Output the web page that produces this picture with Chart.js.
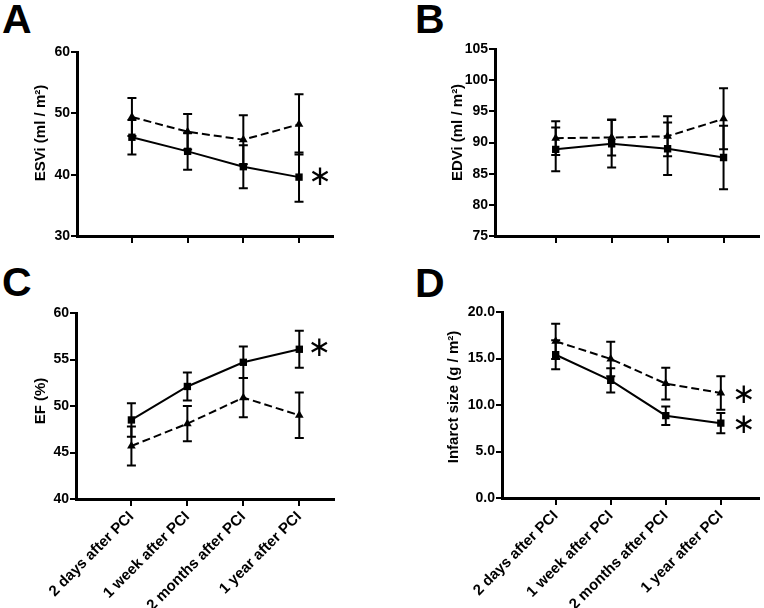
<!DOCTYPE html>
<html><head><meta charset="utf-8">
<script src="https://cdn.jsdelivr.net/npm/chart.js@4"></script>
<style>
html,body{margin:0;padding:0;background:#fff}
body{width:764px;height:608px;position:relative;overflow:hidden;font-family:"Liberation Sans",Arial,sans-serif}
canvas{position:absolute}
.lbl{position:absolute;font-weight:bold;font-size:41px;line-height:1;color:#000;font-family:"Liberation Sans",Arial,sans-serif}
</style></head><body>
<div class="lbl" style="left:2px;top:-1px">A</div>
<div class="lbl" style="left:415px;top:-1px">B</div>
<div class="lbl" style="left:2px;top:262px">C</div>
<div class="lbl" style="left:415px;top:263px">D</div>
<canvas id="cA" width="382" height="290" style="left:0;top:0"></canvas>
<canvas id="cB" width="382" height="290" style="left:382px;top:0"></canvas>
<canvas id="cC" width="382" height="353" style="left:0;top:255px"></canvas>
<canvas id="cD" width="382" height="353" style="left:382px;top:255px"></canvas>
<script>
// ---- data ----
const categories = ['2 days after PCI','1 week after PCI','2 months after PCI','1 year after PCI'];

const esviSolid = [46.1, 43.8, 41.3, 39.6];
const esviSolidErr = [2.8, 3.0, 3.5, 4.0];
const esviDashed = [49.4, 47.0, 45.7, 48.2];
const esviDashedErr = [3.1, 2.9, 4.0, 4.9];
const esviTicks = [30, 40, 50, 60];

const edviSolid = [88.9, 89.8, 89.0, 87.6];
const edviSolidErr = [3.5, 3.8, 4.2, 5.1];
const edviDashed = [90.7, 90.8, 91.0, 93.8];
const edviDashedErr = [2.7, 2.9, 3.2, 4.9];
const edviTicks = [75, 80, 85, 90, 95, 100, 105];

const efSolid = [48.5, 52.1, 54.7, 56.1];
const efSolidErr = [1.8, 1.5, 1.7, 2.0];
const efDashed = [45.7, 48.1, 50.9, 49.0];
const efDashedErr = [2.1, 1.9, 2.1, 2.45];
const efTicks = [40, 45, 50, 55, 60];

const infSolid = [15.4, 12.65, 8.85, 8.05];
const infSolidErr = [1.55, 1.3, 1.0, 1.1];
const infDashed = [16.85, 14.95, 12.3, 11.3];
const infDashedErr = [1.9, 1.85, 1.7, 1.8];
const infTicks = [0, 5, 10, 15, 20];

// ---- plugins ----
const errorBars = {
  id: 'errorBars',
  afterDatasetsDraw(chart) {
    const ctx = chart.ctx, ys = chart.scales.y, xs = chart.scales.x;
    ctx.save();
    ctx.strokeStyle = '#000';
    ctx.lineWidth = 2;
    chart.data.datasets.forEach(ds => {
      ds.data.forEach((p, i) => {
        const e = ds.errors[i];
        const x = xs.getPixelForValue(p.x);
        const y1 = ys.getPixelForValue(p.y + e);
        const y2 = ys.getPixelForValue(p.y - e);
        ctx.beginPath();
        ctx.moveTo(x, y1); ctx.lineTo(x, y2);
        ctx.moveTo(x - 4.5, y1); ctx.lineTo(x + 4.5, y1);
        ctx.moveTo(x - 4.5, y2); ctx.lineTo(x + 4.5, y2);
        ctx.stroke();
      });
    });
    ctx.restore();
  }
};
const stars = {
  id: 'stars',
  afterDraw(chart, args, opts) {
    const ctx = chart.ctx, ys = chart.scales.y, xs = chart.scales.x;
    ctx.save();
    ctx.fillStyle = '#000';
    ctx.font = '28px "DejaVu Sans"';
    ctx.textAlign = 'center';
    ctx.textBaseline = 'middle';
    (opts.marks || []).forEach(m => {
      const p = chart.data.datasets[m.ds].data[m.idx];
      ctx.fillText('\u2217', xs.getPixelForValue(p.x) + m.dx, ys.getPixelForValue(p.y) + m.dy);
    });
    ctx.restore();
  }
};
const yTitle = {
  id: 'yTitle',
  afterDraw(chart, args, opts) {
    const ctx = chart.ctx, a = chart.chartArea;
    ctx.save();
    ctx.fillStyle = '#000';
    ctx.font = 'bold 15px "Liberation Sans", Arial, sans-serif';
    ctx.textAlign = 'center';
    ctx.textBaseline = 'middle';
    ctx.translate(a.left - opts.gap, (a.top + a.bottom) / 2 - opts.shift);
    ctx.rotate(-Math.PI / 2);
    ctx.fillText(opts.text, 0, 0);
    ctx.restore();
  }
};

Chart.defaults.font.family = '"Liberation Sans", Arial, sans-serif';
Chart.defaults.font.weight = 'bold';
Chart.defaults.color = '#000';

function makeChart(id, cfg) {
  const pts = arr => arr.map((v, i) => ({x: i, y: v}));
  new Chart(document.getElementById(id), {
    type: 'scatter',
    data: {
      datasets: [
        {data: pts(cfg.solid), errors: cfg.solidErr, showLine: true, borderColor: '#000', backgroundColor: '#000',
         borderWidth: 2, pointStyle: 'rect', pointRadius: 5.2, pointBorderWidth: 0},
        {data: pts(cfg.dashed), errors: cfg.dashedErr, showLine: true, borderColor: '#000', backgroundColor: '#000',
         borderWidth: 2, borderDash: [8, 4], pointStyle: 'triangle', pointRadius: 5, pointBorderWidth: 0}
      ]
    },
    options: {
      responsive: false, animation: false,
      layout: {padding: {left: 0, top: cfg.padTop, right: cfg.padRight, bottom: 0}},
      plugins: {legend: {display: false}, tooltip: {enabled: false}, stars: {marks: cfg.stars},
                yTitle: {text: cfg.title, gap: cfg.titleGap, shift: cfg.titleShift}},
      scales: {
        x: {
          type: 'linear', min: cfg.xmin, max: cfg.xmax,
          afterBuildTicks: s => { s.ticks = [0, 1, 2, 3].map(v => ({value: v})); },
          afterFit: s => { s.height = cfg.xHeight; },
          grid: {drawOnChartArea: false, color: '#000', lineWidth: 2, tickLength: 7},
          border: {display: true, color: '#000', width: 3},
          ticks: {display: cfg.showX, autoSkip: false, maxRotation: 45, minRotation: 45, padding: 2,
                  font: {size: 15, weight: 'bold'}, callback: v => categories[v]}
        },
        y: {
          min: cfg.ticks[0], max: cfg.ticks[cfg.ticks.length - 1],
          afterBuildTicks: s => { s.ticks = cfg.ticks.map(v => ({value: v})); },
          afterFit: s => { s.width = cfg.yWidth; },
          grid: {drawOnChartArea: false, color: '#000', lineWidth: 2, tickLength: 6},
          border: {display: true, color: '#000', width: 3},
          ticks: {padding: 1, font: {size: 14, weight: 'bold'}, callback: v => cfg.fmt ? v.toFixed(1) : v}
        }
      }
    },
    plugins: [errorBars, stars, yTitle]
  });
}

makeChart('cA', {solid: esviSolid, solidErr: esviSolidErr, dashed: esviDashed, dashedErr: esviDashedErr, ticks: esviTicks,
  title: 'ESVi (ml / m\u00B2)', titleShift: 11, titleGap: 36, padTop: 52, padRight: 49, xHeight: 54, yWidth: 77,
  xmin: -0.986, xmax: 3.61, showX: false, stars: [{ds: 0, idx: 3, dx: 21, dy: 1}]});
makeChart('cB', {solid: edviSolid, solidErr: edviSolidErr, dashed: edviDashed, dashedErr: edviDashedErr, ticks: edviTicks,
  title: 'EDVi (ml / m\u00B2)', titleShift: 10, titleGap: 37, padTop: 49, padRight: 4, xHeight: 54, yWidth: 113,
  xmin: -1.085, xmax: 3.63, showX: false, stars: []});
makeChart('cC', {solid: efSolid, solidErr: efSolidErr, dashed: efDashed, dashedErr: efDashedErr, ticks: efTicks,
  title: 'EF (%)', titleShift: 5, titleGap: 35, padTop: 58, padRight: 48, xHeight: 109, yWidth: 76,
  xmin: -0.99, xmax: 3.62, showX: true, stars: [{ds: 0, idx: 3, dx: 20, dy: -1}]});
makeChart('cD', {solid: infSolid, solidErr: infSolidErr, dashed: infDashed, dashedErr: infDashedErr, ticks: infTicks,
  title: 'Infarct size (g / m\u00B2)', titleShift: 8, titleGap: 48, padTop: 57, padRight: 0, xHeight: 110, yWidth: 120, fmt: true,
  xmin: -0.975, xmax: 3.69, showX: true, stars: [{ds: 1, idx: 3, dx: 23, dy: 3}, {ds: 0, idx: 3, dx: 23, dy: 3}]});
</script>
</body></html>
